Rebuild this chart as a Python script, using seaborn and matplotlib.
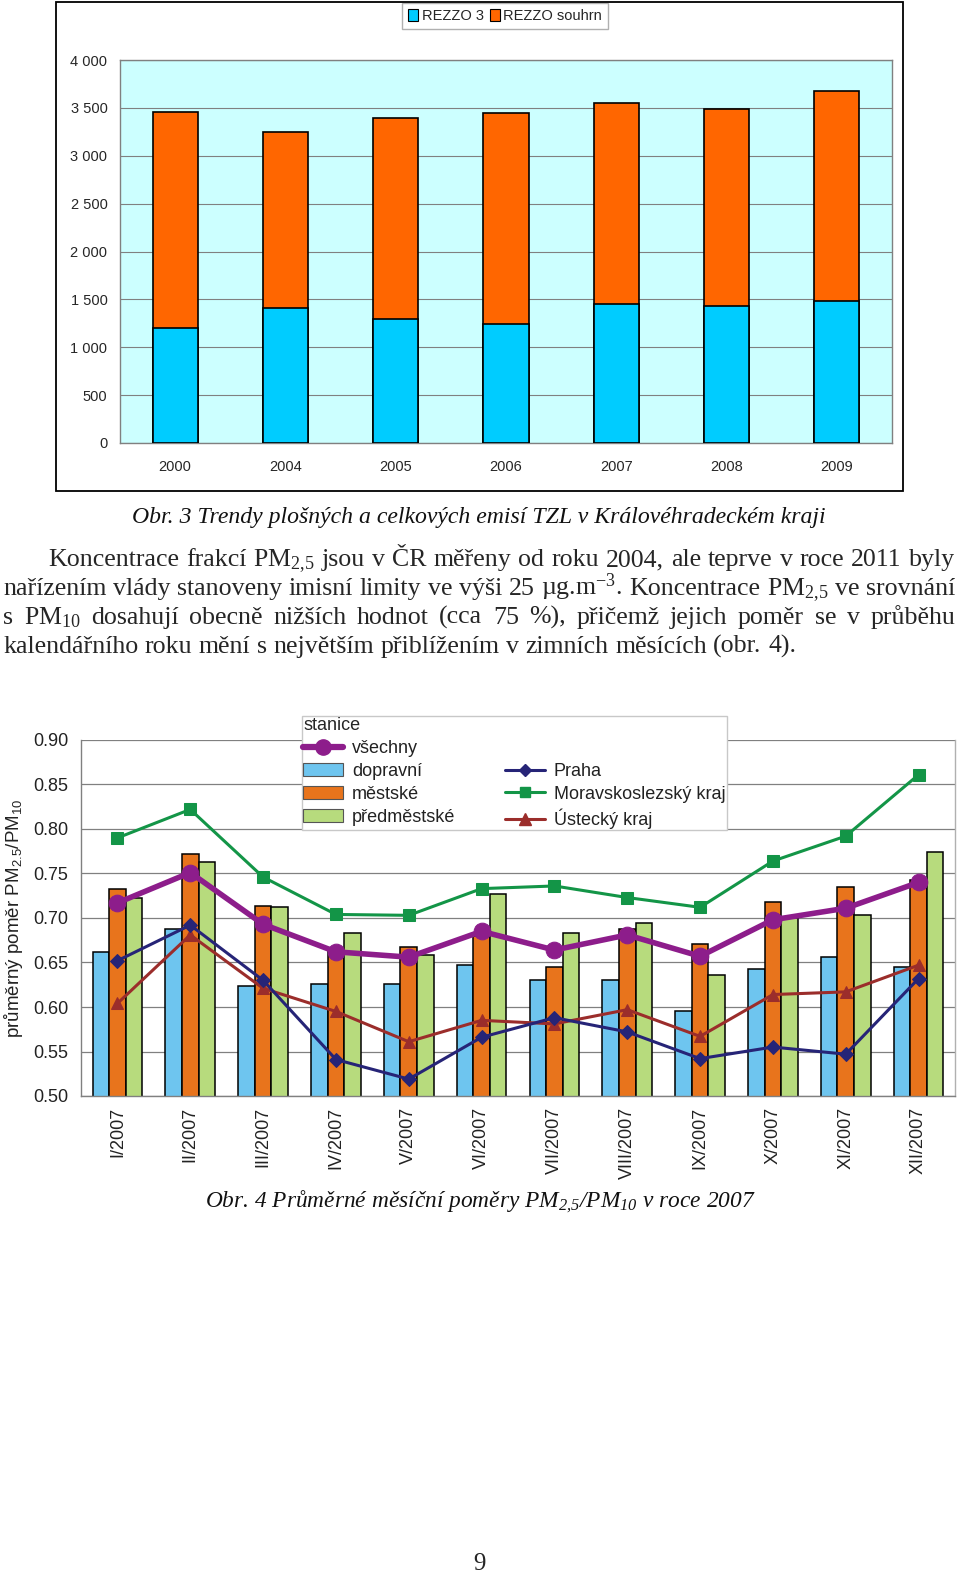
import numpy as np
import pandas as pd
import matplotlib
matplotlib.use("Agg")
import matplotlib.pyplot as plt
import seaborn as sns
from matplotlib.patches import Rectangle, Patch
from matplotlib.lines import Line2D
from matplotlib.ticker import FixedLocator

# Obr. 3 - emise TZL (t/rok)
YEARS = ["2000", "2004", "2005", "2006", "2007", "2008", "2009"]
REZZO_3 = [1200, 1415, 1300, 1240, 1455, 1430, 1480]
REZZO_SOUHRN = [3460, 3250, 3390, 3450, 3550, 3490, 3680]
TOP_YTICKS = [0, 500, 1000, 1500, 2000, 2500, 3000, 3500, 4000]

# Obr. 4 - mesicni pomery PM2,5/PM10
MONTHS = ["I/2007", "II/2007", "III/2007", "IV/2007", "V/2007", "VI/2007",
          "VII/2007", "VIII/2007", "IX/2007", "X/2007", "XI/2007", "XII/2007"]
DOPRAVNI = [0.662, 0.688, 0.624, 0.626, 0.626, 0.647, 0.630, 0.630, 0.596, 0.643, 0.656, 0.645]
MESTSKE = [0.733, 0.772, 0.714, 0.666, 0.667, 0.680, 0.645, 0.688, 0.671, 0.718, 0.735, 0.743]
PREDMESTSKE = [0.723, 0.763, 0.712, 0.683, 0.658, 0.727, 0.683, 0.694, 0.636, 0.700, 0.703, 0.774]
VSECHNY = [0.717, 0.751, 0.693, 0.662, 0.656, 0.685, 0.664, 0.681, 0.657, 0.698, 0.711, 0.740]
PRAHA = [0.652, 0.692, 0.630, 0.541, 0.519, 0.566, 0.588, 0.572, 0.542, 0.555, 0.547, 0.632]
MSK = [0.790, 0.822, 0.746, 0.704, 0.703, 0.733, 0.736, 0.723, 0.712, 0.764, 0.792, 0.861]
USTECKY = [0.604, 0.681, 0.621, 0.595, 0.561, 0.585, 0.581, 0.597, 0.567, 0.614, 0.617, 0.647]
BOTTOM_YTICKS = [0.50, 0.55, 0.60, 0.65, 0.70, 0.75, 0.80, 0.85, 0.90]

# Text of the page
CAPTION_3 = "Obr. 3 Trendy plošných a celkových emisí TZL v Královéhradeckém kraji"
CAPTION_4 = r"Obr. 4 Průměrné měsíční poměry PM$\mathregular{_{2{,}5}}$/PM$\mathregular{_{10}}$ v roce 2007"
PM25 = r"PM$\mathregular{_{2{,}5}}$"
PARAGRAPH = [
    ["Koncentrace", "frakcí", PM25, "jsou", "v", "ČR", "měřeny", "od", "roku", "2004,",
     "ale", "teprve", "v", "roce", "2011", "byly"],
    ["nařízením", "vlády", "stanoveny", "imisní", "limity", "ve", "výši", "25",
     r"µg.m$\mathregular{^{-3}}$.", "Koncentrace", PM25, "ve", "srovnání"],
    ["s", r"PM$\mathregular{_{10}}$", "dosahují", "obecně", "nižších", "hodnot", "(cca", "75",
     "%),", "přičemž", "jejich", "poměr", "se", "v", "průběhu"],
    ["kalendářního", "roku", "mění", "s", "největším", "přiblížením", "v", "zimních",
     "měsících", "(obr.", "4)."],
]

SERIF = ["Liberation Serif", "DejaVu Serif"]
W, H = 960, 1577

# colours
C_BLUE, C_ORANGE = "#00CCFF", "#FF6600"
C_DOPR, C_MEST, C_PRED = "#6EC5EF", "#E8741C", "#B7DB7D"
C_VSE, C_PRAHA, C_MSK, C_UST = "#8D1D8B", "#262477", "#139547", "#9B2D2B"
GREY = "#808080"


def fig_box(x0, y0, x1, y1):
    # pixel box (top-left origin) -> figure fraction rect
    return [x0 / W, 1 - y1 / H, (x1 - x0) / W, (y1 - y0) / H]


def draw_emise_chart(fig):
    ax = fig.add_axes(fig_box(120, 60, 892, 443))
    ax.set_facecolor("#CCFFFF")
    # total first, the REZZO 3 part drawn over it
    sns.barplot(x=YEARS, y=REZZO_SOUHRN, color=C_ORANGE, saturation=1, width=0.41,
                edgecolor="black", linewidth=1.2, ax=ax, zorder=3)
    sns.barplot(x=YEARS, y=REZZO_3, color=C_BLUE, saturation=1, width=0.41,
                edgecolor="black", linewidth=1.2, ax=ax, zorder=3)
    ax.set_ylim(0, 4000)
    ax.set_xlim(-0.5, len(YEARS) - 0.5)
    ax.set_yticks(TOP_YTICKS)
    ax.set_yticklabels([f"{v:,}".replace(",", " ") for v in TOP_YTICKS])
    ax.grid(axis="y", color=GREY, linewidth=0.8)
    ax.set_axisbelow(True)
    ax.tick_params(axis="y", length=0, pad=9, labelsize=10.5)
    ax.tick_params(axis="x", which="major", length=0, pad=12, labelsize=10.5)
    ax.xaxis.set_minor_locator(FixedLocator(np.arange(-0.5, len(YEARS), 1.0)))
    ax.tick_params(axis="x", which="minor", length=4, color=GREY, direction="out")
    for s in ax.spines.values():
        s.set_color(GREY)
        s.set_linewidth(1)
    ax.set_xlabel("")
    ax.set_ylabel("")
    handles = [Patch(facecolor=C_BLUE, edgecolor="black", linewidth=0.8),
               Patch(facecolor=C_ORANGE, edgecolor="black", linewidth=0.8)]
    fig.legend(handles, ["REZZO 3", "REZZO souhrn"], loc="upper center",
               bbox_to_anchor=(505 / W, 1 - 3 / H), ncol=2, fontsize=10.5,
               frameon=True, fancybox=False, edgecolor="#b0b0b0", framealpha=1,
               handlelength=0.7, handleheight=0.9, handletextpad=0.25,
               columnspacing=0.4, borderpad=0.4, borderaxespad=0)
    return ax


def draw_pomery_chart(fig):
    ax = fig.add_axes(fig_box(81, 740, 955, 1096))
    bars = pd.DataFrame({
        "mesic": MONTHS * 3,
        "typ": ["dopravní"] * 12 + ["městské"] * 12 + ["předměstské"] * 12,
        "pomer": DOPRAVNI + MESTSKE + PREDMESTSKE,
    })
    sns.barplot(data=bars, x="mesic", y="pomer", hue="typ",
                palette=[C_DOPR, C_MEST, C_PRED], saturation=1, width=0.68,
                edgecolor="black", linewidth=1.1, legend=False, ax=ax, zorder=2)
    xs = np.arange(len(MONTHS))
    sns.lineplot(x=xs, y=USTECKY, color=C_UST, marker="^", markersize=9,
                 markeredgecolor=C_UST, linewidth=2.2, ax=ax, zorder=4)
    sns.lineplot(x=xs, y=PRAHA, color=C_PRAHA, marker="D", markersize=7,
                 markeredgecolor=C_PRAHA, linewidth=2.2, ax=ax, zorder=4)
    sns.lineplot(x=xs, y=MSK, color=C_MSK, marker="s", markersize=8,
                 markeredgecolor=C_MSK, linewidth=2.2, ax=ax, zorder=4)
    sns.lineplot(x=xs, y=VSECHNY, color=C_VSE, marker="o", markersize=12,
                 markeredgecolor=C_VSE, linewidth=4, ax=ax, zorder=5)

    ax.set_ylim(0.50, 0.90)
    ax.set_xlim(-0.5, len(MONTHS) - 0.5)
    ax.set_yticks(BOTTOM_YTICKS)
    ax.set_yticklabels([f"{v:.2f}" for v in BOTTOM_YTICKS])
    ax.set_xticks(xs)
    ax.set_xticklabels(MONTHS, rotation=90, va="top", ha="center")
    ax.xaxis.set_minor_locator(FixedLocator(np.arange(-0.5, len(MONTHS), 1.0)))
    ax.tick_params(axis="x", which="major", length=0, pad=8, labelsize=13, labelcolor="#222222")
    ax.tick_params(axis="x", which="minor", length=6, color=GREY)
    ax.tick_params(axis="y", length=5, color=GREY, pad=4, labelsize=13, labelcolor="#222222")
    ax.grid(axis="y", color=GREY, linewidth=0.9)
    ax.set_axisbelow(True)
    ax.spines["top"].set_visible(False)
    for side in ["left", "bottom", "right"]:
        ax.spines[side].set_color(GREY)
        ax.spines[side].set_linewidth(1)
    ax.spines["right"].set_color("#b0b0b0")
    ax.set_xlabel("")
    ax.set_ylabel(r"průměrný poměr PM$\mathregular{_{2.5}}$/PM$\mathregular{_{10}}$",
                  fontsize=13.5, color="#222222")
    # right edge of the rotated label at about x = 25 px
    ax.yaxis.set_label_coords((25 - 81) / 874, 0.5)

    # legend: stanice column + region column
    bar_kw = dict(edgecolor="#555555", linewidth=0.8)
    handles = [
        Line2D([], [], color=C_VSE, lw=4.5, marker="o", ms=11),
        Patch(facecolor=C_DOPR, **bar_kw),
        Patch(facecolor=C_MEST, **bar_kw),
        Patch(facecolor=C_PRED, **bar_kw),
        Line2D([], [], linestyle="none"),
        Line2D([], [], color=C_PRAHA, lw=2.2, marker="D", ms=6),
        Line2D([], [], color=C_MSK, lw=2.2, marker="s", ms=7),
        Line2D([], [], color=C_UST, lw=2.2, marker="^", ms=8),
    ]
    labels = ["všechny", "dopravní", "městské", "předměstské",
              "", "Praha", "Moravskoslezský kraj", "Ústecký kraj"]
    x0 = (302 - 81) / 874
    x1 = (727 - 81) / 874
    y_top = (1096 - 716) / 356
    leg = ax.legend(handles, labels, ncol=2, title="stanice", title_fontsize=13,
                    fontsize=13, loc="upper left",
                    bbox_to_anchor=(x0, y_top - 0.5, x1 - x0, 0.5), mode="expand",
                    frameon=True, fancybox=False, edgecolor="#c8c8c8", framealpha=1,
                    handlelength=2.2, handleheight=0.7, handletextpad=0.5,
                    labelspacing=0.32, borderpad=0.08, borderaxespad=0,
                    columnspacing=1.0, alignment="left")
    leg.set_zorder(10)
    for t in leg.get_texts():
        t.set_color("#222222")
    return ax


def fit_size(page, renderer, text, width, **kw):
    # scale font size so that text spans the given pixel width
    t = page.text(0, 0, text, fontsize=20, **kw)
    w = t.get_window_extent(renderer).width
    t.remove()
    return 20 * width / w


def justify_line(page, renderer, words, x0, x1, y, size, last=False):
    texts = [page.text(0, y, w, fontsize=size, family=SERIF, va="baseline", ha="left")
             for w in words]
    widths = [t.get_window_extent(renderer).width for t in texts]
    if last:
        sp = page.text(0, 0, "a a", fontsize=size, family=SERIF)
        sa = page.text(0, 0, "aa", fontsize=size, family=SERIF)
        gap = sp.get_window_extent(renderer).width - sa.get_window_extent(renderer).width
        sp.remove()
        sa.remove()
    else:
        gap = (x1 - x0 - sum(widths)) / (len(words) - 1)
    x = x0
    for t, w in zip(texts, widths):
        t.set_x(x)
        x += w + gap


def draw_page_text(fig):
    page = fig.add_axes([0, 0, 1, 1], zorder=20)
    page.set_xlim(0, W)
    page.set_ylim(H, 0)
    page.axis("off")
    renderer = fig.canvas.get_renderer()

    # frame around Obr. 3
    page.add_patch(Rectangle((56, 2), 847, 489, fill=False, edgecolor="black", linewidth=1.3))

    s3 = fit_size(page, renderer, CAPTION_3, 695, family=SERIF, style="italic")
    page.text(479, 523, CAPTION_3, fontsize=s3, family=SERIF, style="italic",
              ha="center", va="baseline", color="#111111")

    size = fit_size(page, renderer, " ".join(PARAGRAPH[-1]), 793, family=SERIF)
    baselines = [566, 595, 624, 653]
    starts = [48, 3, 3, 3]
    for i, words in enumerate(PARAGRAPH):
        justify_line(page, renderer, words, starts[i], 955, baselines[i], size,
                     last=(i == len(PARAGRAPH) - 1))

    s4 = fit_size(page, renderer, CAPTION_4, 551, family=SERIF, style="italic")
    page.text(480, 1207, CAPTION_4, fontsize=s4, family=SERIF, style="italic",
              ha="center", va="baseline", color="#111111")

    page.text(479, 1570, "9", fontsize=18, family=SERIF, ha="center", va="baseline")


def main():
    sns.set_style("white")
    plt.rcParams["font.family"] = ["Liberation Sans", "DejaVu Sans"]
    plt.rcParams["axes.unicode_minus"] = True

    fig = plt.figure(figsize=(W / 100, H / 100), dpi=100)
    draw_emise_chart(fig)
    draw_pomery_chart(fig)
    draw_page_text(fig)
    fig.savefig("out.png", dpi=100)
    plt.close(fig)


if __name__ == "__main__":
    main()
